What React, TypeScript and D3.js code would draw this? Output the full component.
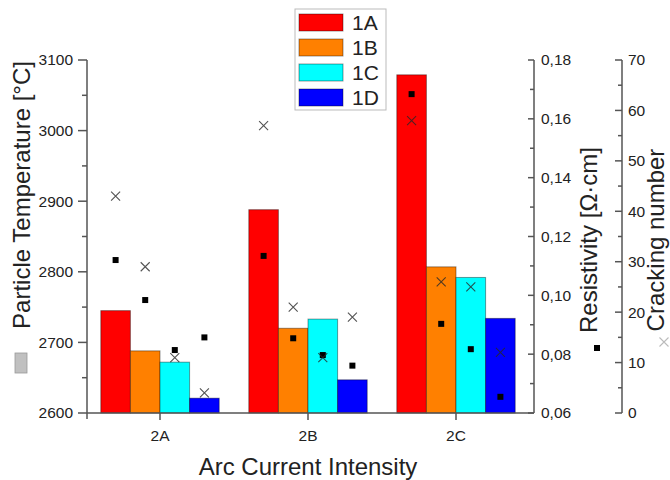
import React from "react";
import * as d3 from "d3";

// Arc current intensity groups along the x axis
const categories = ["2A", "2B", "2C"];
// Powder series drawn as bars inside each group
const seriesNames = ["1A", "1B", "1C", "1D"];
const seriesColors = ["#ff0000", "#ff8000", "#00ffff", "#0000ff"];

// Particle temperature [°C], one array per series, one value per category
const temperature1A = [2745, 2888, 3079];
const temperature1B = [2688, 2720, 2807];
const temperature1C = [2672, 2733, 2792];
const temperature1D = [2621, 2647, 2734];

// Resistivity [Ω·cm]
const resistivity1A = [0.112, 0.1134, 0.1684];
const resistivity1B = [0.0984, 0.0854, 0.0903];
const resistivity1C = [0.0814, 0.0797, 0.0817];
const resistivity1D = [0.0857, 0.0761, 0.0655];

// Cracking number
const cracking1A = [43, 57, 58];
const cracking1B = [29, 21, 26];
const cracking1C = [11, 11, 25];
const cracking1D = [4, 19, 12];

const temperature = [temperature1A, temperature1B, temperature1C, temperature1D];
const resistivity = [resistivity1A, resistivity1B, resistivity1C, resistivity1D];
const cracking = [cracking1A, cracking1B, cracking1C, cracking1D];

const temperatureTicks = [2600, 2700, 2800, 2900, 3000, 3100];
const resistivityTicks = [0.06, 0.08, 0.1, 0.12, 0.14, 0.16, 0.18];
const crackingTicks = [0, 10, 20, 30, 40, 50, 60, 70];

const FONT = "Arial, 'Liberation Sans', Helvetica, sans-serif";
const AXIS = "#555";
const TEXT = "#222";

const W = 670;
const H = 480;
const top = 60;
const bottom = 413;
const left = 87;
const right = 534;
const crackAxisX = 622;

export default function App() {
  const x = d3.scaleLinear().domain([0.5, 3.5]).range([86, 530]);
  const barW = 0.2;
  const yT = d3.scaleLinear().domain([2600, 3100]).range([bottom, top]);
  const yR = d3.scaleLinear().domain([0.06, 0.18]).range([bottom, top]);
  const yC = d3.scaleLinear().domain([0, 70]).range([bottom, top]);

  const fmtComma = (v: number) => d3.format(".2f")(v).replace(".", ",");

  const barLeft = (ci: number, si: number) => x(ci + 1 - 2 * barW + si * barW);
  const barCenter = (ci: number, si: number) => x(ci + 1 - 1.5 * barW + si * barW);
  const bw = x(1 + barW) - x(1);

  const minorT = d3.range(2650, 3100, 100);
  const minorR = d3.range(0.07, 0.175, 0.02);
  const minorC = d3.range(5, 70, 10);

  const cross = (cx: number, cy: number, s: number, color: string, key: string) => (
    <path
      key={key}
      d={`M${cx - s},${cy - s}L${cx + s},${cy + s}M${cx - s},${cy + s}L${cx + s},${cy - s}`}
      stroke={color}
      strokeWidth={1.1}
      fill="none"
    />
  );

  return (
    <svg
      width={W}
      height={H}
      style={{ position: "absolute", left: 0, top: 0, background: "#fff" }}
      fontFamily={FONT}
    >
      {/* bars: particle temperature */}
      {seriesNames.map((s, si) =>
        categories.map((c, ci) => (
          <rect
            key={`bar-${s}-${c}`}
            x={barLeft(ci, si)}
            y={yT(temperature[si][ci])}
            width={bw}
            height={yT(2600) - yT(temperature[si][ci])}
            fill={seriesColors[si]}
            stroke="#000"
            strokeOpacity={0.4}
            strokeWidth={1}
          />
        ))
      )}

      {/* resistivity squares */}
      {seriesNames.map((s, si) =>
        categories.map((c, ci) => (
          <rect
            key={`res-${s}-${c}`}
            x={barCenter(ci, si) - 3}
            y={yR(resistivity[si][ci]) - 3}
            width={6}
            height={6}
            fill="#000"
          />
        ))
      )}

      {/* cracking crosses */}
      {seriesNames.map((s, si) =>
        categories.map((c, ci) =>
          cross(barCenter(ci, si), yC(cracking[si][ci]), 4.5, "rgba(40,40,40,0.8)", `cr-${s}-${c}`)
        )
      )}

      {/* left axis */}
      <line x1={left} x2={left} y1={top} y2={419} stroke={AXIS} strokeWidth={1.5} />
      {temperatureTicks.map((t) => (
        <g key={`tt-${t}`}>
          <line x1={left - 9} x2={left} y1={yT(t)} y2={yT(t)} stroke={AXIS} strokeWidth={1.5} />
          <text x={left - 14} y={yT(t)} dy="0.35em" textAnchor="end" fontSize={15.5} fill={TEXT}>
            {t}
          </text>
        </g>
      ))}
      {minorT.map((t) => (
        <line key={`tm-${t}`} x1={left - 5} x2={left} y1={yT(t)} y2={yT(t)} stroke={AXIS} strokeWidth={1.5} />
      ))}

      {/* bottom axis */}
      <line x1={left} x2={right} y1={bottom} y2={bottom} stroke={AXIS} strokeWidth={1.5} />
      {categories.map((c, ci) => (
        <g key={`xt-${c}`}>
          <line x1={x(ci + 1)} x2={x(ci + 1)} y1={bottom} y2={bottom + 7} stroke={AXIS} strokeWidth={1.5} />
          <text x={x(ci + 1)} y={441} textAnchor="middle" fontSize={15.5} fill={TEXT}>
            {c}
          </text>
        </g>
      ))}

      {/* resistivity axis */}
      <line x1={right} x2={right} y1={top} y2={bottom} stroke={AXIS} strokeWidth={1.5} />
      {resistivityTicks.map((t) => (
        <g key={`rt-${t}`}>
          <line x1={right - 6} x2={right} y1={yR(t)} y2={yR(t)} stroke={AXIS} strokeWidth={1.5} />
          <text x={right + 7} y={yR(t)} dy="0.35em" fontSize={15.5} fill={TEXT}>
            {fmtComma(t)}
          </text>
        </g>
      ))}
      {minorR.map((t) => (
        <line key={`rm-${t}`} x1={right - 4} x2={right} y1={yR(t)} y2={yR(t)} stroke={AXIS} strokeWidth={1.5} />
      ))}

      {/* cracking axis */}
      <line x1={crackAxisX} x2={crackAxisX} y1={top} y2={bottom} stroke={AXIS} strokeWidth={1.5} />
      {crackingTicks.map((t) => (
        <g key={`ct-${t}`}>
          <line x1={crackAxisX - 7} x2={crackAxisX} y1={yC(t)} y2={yC(t)} stroke={AXIS} strokeWidth={1.5} />
          <text x={crackAxisX + 6} y={yC(t)} dy="0.35em" fontSize={15.5} fill={TEXT}>
            {t}
          </text>
        </g>
      ))}
      {minorC.map((t) => (
        <line key={`cm-${t}`} x1={crackAxisX - 4} x2={crackAxisX} y1={yC(t)} y2={yC(t)} stroke={AXIS} strokeWidth={1.5} />
      ))}

      {/* axis titles */}
      <text
        transform="translate(29.5,195) rotate(-90)"
        textAnchor="middle"
        fontSize={24}
        fill={TEXT}
      >
        Particle Temperature [°C]
      </text>
      <rect x={15} y={353} width={12} height={20} fill="#c0c0c0" stroke="#999" strokeWidth={0.8} />

      <text
        transform="translate(597,240) rotate(-90)"
        textAnchor="middle"
        fontSize={24}
        fill={TEXT}
      >
        Resistivity [Ω·cm]
      </text>
      <rect x={594} y={345} width={6} height={6} fill="#000" />

      <text
        transform="translate(664,240) rotate(-90)"
        textAnchor="middle"
        fontSize={24}
        fill={TEXT}
      >
        Cracking number
      </text>
      {cross(664, 342, 4.5, "#bbb", "cr-legend")}

      <text x={x(2)} y={475} textAnchor="middle" fontSize={24} fill={TEXT}>
        Arc Current Intensity
      </text>

      {/* legend */}
      <rect x={295} y={9} width={91} height={101} fill="#fff" stroke="#bbb" strokeWidth={1} />
      {seriesNames.map((s, si) => (
        <g key={`lg-${s}`}>
          <rect
            x={299}
            y={14 + si * 25}
            width={44}
            height={17}
            fill={seriesColors[si]}
            stroke="#000"
            strokeOpacity={0.4}
            strokeWidth={1}
          />
          <text x={352} y={14 + si * 25 + 8.5} dy="0.36em" fontSize={21} fill={TEXT}>
            {s}
          </text>
        </g>
      ))}
    </svg>
  );
}
